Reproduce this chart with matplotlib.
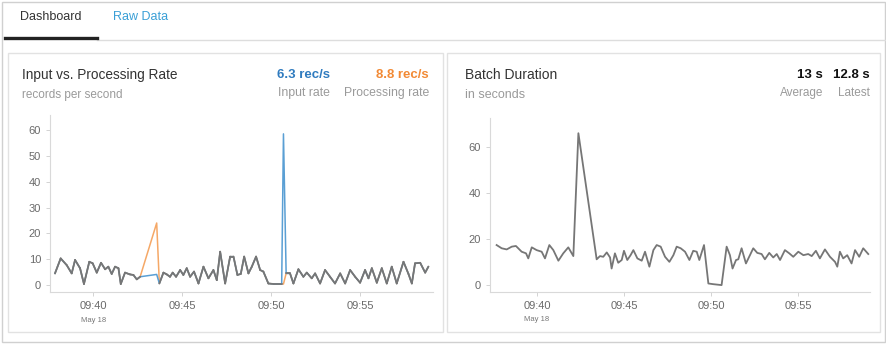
import matplotlib
matplotlib.use("Agg")
import matplotlib.pyplot as plt
import matplotlib.transforms as mtransforms
from matplotlib.patches import Rectangle
import numpy as np

# ---------------------------------------------------------------------------
# Data (x = minutes after 09:00)
# ---------------------------------------------------------------------------

rate_minutes = [
    37.84, 38.16, 38.50, 38.78, 38.97, 39.25, 39.47, 39.77, 39.96, 40.19,
    40.43, 40.66, 40.84, 41.03, 41.22, 41.41, 41.54, 41.78, 42.06, 42.25,
    42.44, 42.63, 43.56, 43.71, 43.94, 44.13, 44.31, 44.46, 44.65, 44.88,
    45.06, 45.25, 45.44, 45.66, 45.91, 46.19, 46.47, 46.75, 46.94, 47.13,
    47.41, 47.69, 47.88, 48.10, 48.29, 48.48, 48.72, 48.91, 49.15, 49.38,
    49.56, 49.84, 50.13, 50.59, 50.69, 50.84, 51.06, 51.25, 51.53, 51.81,
    52.00, 52.28, 52.47, 52.75, 53.03, 53.31, 53.59, 53.88, 54.16, 54.44,
    54.72, 55.00, 55.28, 55.47, 55.66, 55.94, 56.22, 56.50, 56.78, 57.06,
    57.44, 57.72, 57.91, 58.09, 58.38, 58.66, 58.84,
]
input_rate = [
    4.5, 10.3, 7.7, 4.5, 9.7, 6.5, 0.4, 9.0, 8.4, 4.8,
    8.6, 6.1, 7.1, 4.3, 7.1, 6.5, 0.4, 4.8, 4.1, 3.9,
    2.2, 3.2, 4.1, 0.6, 4.8, 4.1, 3.2, 4.8, 3.2, 5.8,
    3.9, 6.5, 3.2, 5.2, 0.6, 7.1, 2.6, 5.8, 1.9, 12.9,
    0.6, 11.0, 11.0, 3.9, 4.3, 11.0, 4.5, 7.1, 11.0, 5.8,
    5.2, 0.6, 0.4, 0.4, 58.5, 4.5, 4.5, 0.6, 6.1, 3.2,
    4.8, 2.6, 4.5, 0.6, 5.8, 3.2, 0.6, 4.5, 0.6, 5.8,
    3.2, 0.9, 5.8, 2.6, 6.5, 0.9, 6.5, 0.6, 7.1, 0.6,
    9.0, 4.3, 0.6, 8.4, 8.6, 4.8, 7.1,
]
processing_rate = [
    4.5, 10.3, 7.7, 4.5, 9.7, 6.5, 0.4, 9.0, 8.4, 4.8,
    8.6, 6.1, 7.1, 4.3, 7.1, 6.5, 0.4, 4.8, 4.1, 3.9,
    2.2, 3.2, 24.0, 0.6, 4.8, 4.1, 3.2, 4.8, 3.2, 5.8,
    3.9, 6.5, 3.2, 5.2, 0.6, 7.1, 2.6, 5.8, 1.9, 12.9,
    0.6, 11.0, 11.0, 3.9, 4.3, 11.0, 4.5, 7.1, 11.0, 5.8,
    5.2, 0.6, 0.4, 0.4, 0.4, 4.5, 4.5, 0.6, 6.1, 3.2,
    4.8, 2.6, 4.5, 0.6, 5.8, 3.2, 0.6, 4.5, 0.6, 5.8,
    3.2, 0.9, 5.8, 2.6, 6.5, 0.9, 6.5, 0.6, 7.1, 0.6,
    9.0, 4.3, 0.6, 8.4, 8.6, 4.8, 7.1,
]

batch_minutes = [
    37.68, 37.97, 38.26, 38.55, 38.79, 39.12, 39.37, 39.50, 39.70, 39.98,
    40.27, 40.46, 40.71, 40.94, 41.23, 41.51, 41.80, 42.09, 42.38, 43.43,
    43.62, 43.81, 44.01, 44.20, 44.29, 44.48, 44.67, 44.87, 45.00, 45.19,
    45.38, 45.54, 45.77, 46.02, 46.21, 46.46, 46.69, 46.88, 47.11, 47.36,
    47.61, 47.84, 48.03, 48.26, 48.51, 48.76, 48.98, 49.18, 49.33, 49.60,
    49.85, 50.13, 50.61, 50.90, 51.09, 51.24, 51.44, 51.57, 51.76, 52.01,
    52.24, 52.43, 52.66, 52.91, 53.10, 53.35, 53.58, 53.78, 53.97, 54.25,
    54.50, 54.73, 55.02, 55.31, 55.59, 55.79, 56.03, 56.26, 56.55, 56.84,
    57.13, 57.26, 57.41, 57.60, 57.83, 58.08, 58.28, 58.52, 58.75, 59.04,
]
batch_seconds = [
    17.4, 16.0, 15.5, 16.7, 17.0, 14.5, 13.8, 11.6, 16.4, 15.2,
    14.5, 11.6, 17.4, 15.2, 10.6, 13.8, 16.4, 12.6, 66.0, 11.2,
    12.6, 12.3, 14.2, 12.0, 7.2, 13.8, 9.7, 10.9, 14.9, 10.9,
    13.0, 15.2, 11.6, 10.6, 14.5, 8.0, 15.2, 17.4, 16.7, 12.3,
    10.1, 13.0, 16.7, 16.0, 14.5, 10.9, 14.9, 14.5, 10.9, 17.4,
    0.7, 0.4, 0.0, 16.7, 13.0, 7.2, 10.9, 11.2, 16.0, 9.4,
    13.0, 16.0, 14.0, 13.5, 11.2, 14.0, 12.0, 13.5, 10.9, 15.2,
    13.8, 12.3, 14.5, 13.0, 13.5, 12.6, 14.9, 11.6, 15.5, 12.3,
    10.1, 8.0, 14.5, 11.6, 13.0, 9.4, 15.2, 12.3, 16.0, 13.5,
]

tick_minutes = [40, 45, 50, 55]
tick_labels = ["09:40", "09:45", "09:50", "09:55"]

W, H = 887, 344
GRAY_LINE = "#767676"
BLUE = "#5a9fd4"
ORANGE = "#f5a867"


def fx(px):
    return px / W


def fy(py):
    return 1 - py / H


def add_axes(fig, left, top, right, bottom):
    return fig.add_axes([fx(left), fy(bottom), fx(right - left), (bottom - top) / H])


def style_axes(ax, yticks):
    for side in ("top", "right"):
        ax.spines[side].set_visible(False)
    for side in ("left", "bottom"):
        ax.spines[side].set_color("#d9d9d9")
        ax.spines[side].set_linewidth(0.8)
    ax.set_yticks(yticks)
    ax.set_xticks(tick_minutes)
    ax.set_xticklabels(tick_labels)
    ax.tick_params(colors="#cccccc", labelcolor="#6a6a6a", labelsize=8, length=3, width=0.6)
    ax.patch.set_alpha(0)
    trans = mtransforms.blended_transform_factory(ax.transData, ax.transAxes)
    ax.text(40, -0.14, "May 18", transform=trans, fontsize=5.5, color="#777777",
            ha="center", va="top")


plt.rcParams["font.family"] = ["Liberation Sans", "DejaVu Sans"]
fig = plt.figure(figsize=(W / 100, H / 100), dpi=100)

# frame, tabs and panels
fig.patches.append(Rectangle((fx(2), fy(342)), fx(883), 340 / H, transform=fig.transFigure,
                             fill=False, edgecolor="#d0d0d0", linewidth=1))
fig.add_artist(plt.Line2D([fx(97), fx(885)], [fy(39.5), fy(39.5)], color="#dddddd", linewidth=1))
fig.add_artist(plt.Line2D([fx(5), fx(97)], [fy(37.5), fy(37.5)], color="#222222", linewidth=2.4))
fig.text(fx(20), fy(17), "Dashboard", fontsize=9, color="#333333", va="center")
fig.text(fx(113), fy(17), "Raw Data", fontsize=9, color="#3a9fd6", va="center")
for x0, x1 in [(8, 443), (447, 880)]:
    fig.patches.append(Rectangle((fx(x0), fy(332)), fx(x1 - x0), 279 / H, transform=fig.transFigure,
                                 fill=False, edgecolor="#e2e2e2", linewidth=1))

# left panel header
fig.text(fx(22), fy(75), "Input vs. Processing Rate", fontsize=9.8, color="#333333", va="center")
fig.text(fx(22), fy(95), "records per second", fontsize=8.5, color="#9a9a9a", va="center")
fig.text(fx(330), fy(75), "6.3 rec/s", fontsize=9.5, color="#2f7bbf", fontweight="bold",
         ha="right", va="center")
fig.text(fx(429), fy(75), "8.8 rec/s", fontsize=9.5, color="#f28a35", fontweight="bold",
         ha="right", va="center")
fig.text(fx(330), fy(93), "Input rate", fontsize=8.8, color="#9a9a9a", ha="right", va="center")
fig.text(fx(429), fy(93), "Processing rate", fontsize=8.8, color="#9a9a9a", ha="right", va="center")

# right panel header
fig.text(fx(465), fy(75), "Batch Duration", fontsize=10, color="#333333", va="center")
fig.text(fx(465), fy(95), "in seconds", fontsize=9, color="#9a9a9a", va="center")
fig.text(fx(823), fy(75), "13 s", fontsize=9.5, color="#111111", fontweight="bold",
         ha="right", va="center")
fig.text(fx(870), fy(75), "12.8 s", fontsize=9.5, color="#111111", fontweight="bold",
         ha="right", va="center")
fig.text(fx(823), fy(93), "Average", fontsize=8.5, color="#9a9a9a", ha="right", va="center")
fig.text(fx(870), fy(93), "Latest", fontsize=8.5, color="#9a9a9a", ha="right", va="center")

# left chart: input vs processing rate
ax1 = add_axes(fig, 50, 115, 433, 292)
t = np.array(rate_minutes)
inp = np.array(input_rate)
proc = np.array(processing_rate)
ax1.plot(t, proc, color=ORANGE, linewidth=1.1)
ax1.plot(t, inp, color=BLUE, linewidth=1.1)
same = np.isclose(inp, proc)
for i in range(len(t) - 1):
    if same[i] and same[i + 1]:
        ax1.plot(t[i:i + 2], inp[i:i + 2], color=GRAY_LINE, linewidth=1.3,
                 solid_capstyle="round")
ax1.set_xlim(37.56, 59.1)
ax1.set_ylim(-2.7, 65.8)
style_axes(ax1, [0, 10, 20, 30, 40, 50, 60])

# right chart: batch duration
ax2 = add_axes(fig, 490, 118, 870, 292)
ax2.plot(batch_minutes, batch_seconds, color=GRAY_LINE, linewidth=1.3)
ax2.set_xlim(37.3, 59.14)
ax2.set_ylim(-3.0, 72.6)
style_axes(ax2, [0, 20, 40, 60])

fig.savefig("out.png", dpi=100)
